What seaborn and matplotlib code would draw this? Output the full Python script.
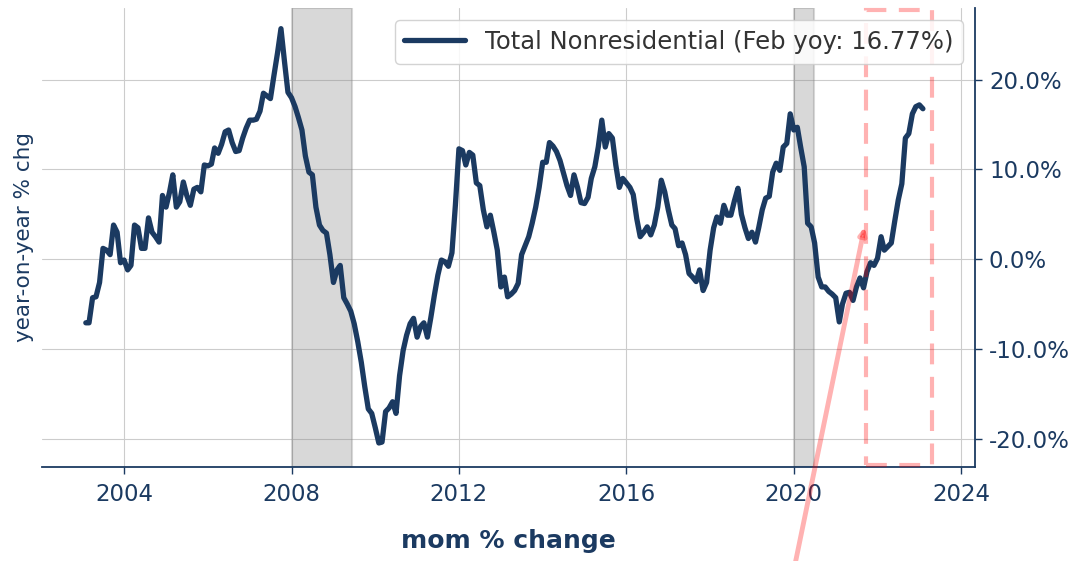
import numpy as np
import pandas as pd
import matplotlib
matplotlib.use("Agg")
import matplotlib.pyplot as plt
import matplotlib.dates as mdates
import matplotlib.ticker as mticker
from matplotlib.patches import Rectangle
import seaborn as sns

# ---------------- data (monthly yoy % change, Total Nonresidential) ----------------
series_end = "2023-02-01"
yoy_values = [
    -7.1, -7.1, -4.3, -4.2, -2.6, 1.2, 1.0, 0.5, 3.8, 3.0, -0.4,
    -0.1, -1.2, -0.7, 3.8, 3.5, 1.2, 1.2, 4.6, 3.0, 2.5, 1.9, 7.1,
    5.8, 7.5, 9.4, 5.8, 6.4, 8.6, 7.1, 6.0, 7.8, 8.0, 7.5, 10.5,
    10.4, 10.6, 12.4, 11.8, 12.8, 14.2, 14.4, 13.0, 12.0, 12.1, 13.5, 14.6,
    15.5, 15.5, 15.6, 16.5, 18.5, 18.2, 17.9, 20.5, 23.0, 25.7, 22.0, 18.6,
    18.0, 17.0, 15.8, 14.4, 11.5, 9.7, 9.4, 5.8, 3.8, 3.2, 2.9, 0.5,
    -2.6, -1.2, -0.7, -4.3, -5.0, -5.8, -7.2, -9.2, -11.5, -14.2, -16.7, -17.2,
    -18.8, -20.5, -20.4, -17.0, -16.6, -15.9, -17.2, -13.0, -10.2, -8.5, -7.2, -6.6,
    -8.7, -7.5, -7.1, -8.7, -6.5, -4.0, -1.8, -0.1, -0.3, -0.8, 0.7, 6.0,
    12.3, 12.1, 10.5, 11.9, 11.6, 8.5, 8.2, 5.5, 3.6, 4.9, 3.0, 1.0,
    -3.1, -2.0, -4.2, -3.9, -3.5, -2.7, 0.5, 1.5, 2.5, 4.0, 5.8, 8.0,
    10.8, 10.8, 13.0, 12.6, 12.0, 11.0, 9.6, 8.2, 7.1, 9.4, 8.0, 6.3,
    6.2, 6.9, 9.0, 10.3, 12.5, 15.5, 12.5, 14.0, 13.5, 10.5, 8.0, 9.0,
    8.5, 8.0, 7.2, 4.5, 2.5, 3.0, 3.6, 2.7, 3.8, 5.8, 8.8, 7.5,
    5.5, 3.8, 3.4, 1.5, 1.8, 0.5, -1.6, -2.0, -2.5, -1.2, -3.5, -2.6,
    1.0, 3.5, 4.7, 4.0, 6.0, 4.9, 4.9, 6.5, 7.9, 5.0, 3.5, 2.3,
    3.0, 1.9, 3.5, 5.5, 6.8, 7.0, 9.7, 10.7, 9.9, 12.5, 12.9, 16.2,
    14.4, 14.7, 12.5, 10.3, 4.0, 3.6, 1.8, -2.0, -3.1, -3.1, -3.6, -3.9,
    -4.3, -7.0, -5.0, -3.8, -3.7, -4.6, -3.1, -2.1, -3.2, -1.4, -0.4, -0.7,
    0.1, 2.5, 1.0, 1.4, 1.8, 4.3, 6.6, 8.4, 13.5, 14.0, 16.2, 17.0,
    17.2, 16.77,
]
recession_starts = ["2008-01-01", "2020-01-01"]
recession_ends = ["2009-06-15", "2020-06-25"]
highlight_x = ["2021-09-20", "2023-04-22"]
highlight_y = [-23.0, 27.8]
arrow_tip = ("2021-09-10", 3.6)
arrow_tail = ("2019-11-25", -37.0)
x_limits = ["2002-01-15", "2024-05-01"]
y_limits = [-23.15, 28.0]
y_ticks = [-20, -10, 0, 10, 20]
legend_label = "Total Nonresidential (Feb yoy: 16.77%)"
y_label = "year-on-year % chg"
x_label = "mom % change"

# ---------------- style ----------------
NAVY = "#1b3a61"
sns.set_style("whitegrid", {"grid.color": "#cccccc"})
plt.rcParams["font.family"] = ["DejaVu Sans"]

dates = pd.date_range(end=series_end, periods=len(yoy_values), freq="MS")
df = pd.DataFrame({"date": dates, "yoy": yoy_values})

fig, ax = plt.subplots(figsize=(10.78, 5.61), dpi=100)
fig.subplots_adjust(left=0.039, right=0.9045, bottom=0.168, top=0.9857)

for s, e in zip(recession_starts, recession_ends):
    ax.axvspan(pd.Timestamp(s), pd.Timestamp(e), color="gray", alpha=0.3, lw=1.5, zorder=1)

sns.lineplot(data=df, x="date", y="yoy", ax=ax, color=NAVY, lw=3.8,
             label=legend_label, zorder=3)

# highlight box
x0 = mdates.date2num(pd.Timestamp(highlight_x[0]))
x1 = mdates.date2num(pd.Timestamp(highlight_x[1]))
rect = Rectangle((x0, highlight_y[0]), x1 - x0, highlight_y[1] - highlight_y[0],
                 fill=False, edgecolor="red", alpha=0.3, lw=3, ls=(0, (5, 3)),
                 zorder=4, clip_on=False)
ax.add_patch(rect)

# arrow
ax.annotate("", xy=(mdates.date2num(pd.Timestamp(arrow_tip[0])), arrow_tip[1]),
            xytext=(mdates.date2num(pd.Timestamp(arrow_tail[0])), arrow_tail[1]),
            arrowprops=dict(arrowstyle="-|>", color="red", alpha=0.3, lw=3.5,
                            mutation_scale=10, shrinkA=0, shrinkB=0),
            annotation_clip=False, zorder=5)

ax.set_xlim(pd.Timestamp(x_limits[0]), pd.Timestamp(x_limits[1]))
ax.set_ylim(*y_limits)
ax.xaxis.set_major_locator(mdates.YearLocator(4))
ax.xaxis.set_major_formatter(mdates.DateFormatter("%Y"))
ax.set_yticks(y_ticks)
ax.yaxis.set_major_formatter(mticker.FuncFormatter(lambda v, p: f"{v:.1f}%"))
ax.yaxis.tick_right()
ax.yaxis.set_label_position("left")

for side in ["left", "top"]:
    ax.spines[side].set_visible(False)
for side in ["right", "bottom"]:
    ax.spines[side].set_visible(True)
    ax.spines[side].set_color(NAVY)
    ax.spines[side].set_linewidth(1.3)

ax.tick_params(axis="both", labelsize=16.5, labelcolor=NAVY, color=NAVY,
               length=5, width=1)
ax.tick_params(axis="y", right=True, left=False, pad=5)
ax.tick_params(axis="x", bottom=True, pad=7)

ax.set_ylabel(y_label, color=NAVY, fontsize=15.5, labelpad=6)
ax.set_xlabel(x_label, color=NAVY, fontsize=18, fontweight="bold", labelpad=16)

leg = ax.legend(loc="upper right", fontsize=17.5, handlelength=2.5, framealpha=0.85)
for t in leg.get_texts():
    t.set_color("#333333")

fig.savefig("out.png", dpi=100)
